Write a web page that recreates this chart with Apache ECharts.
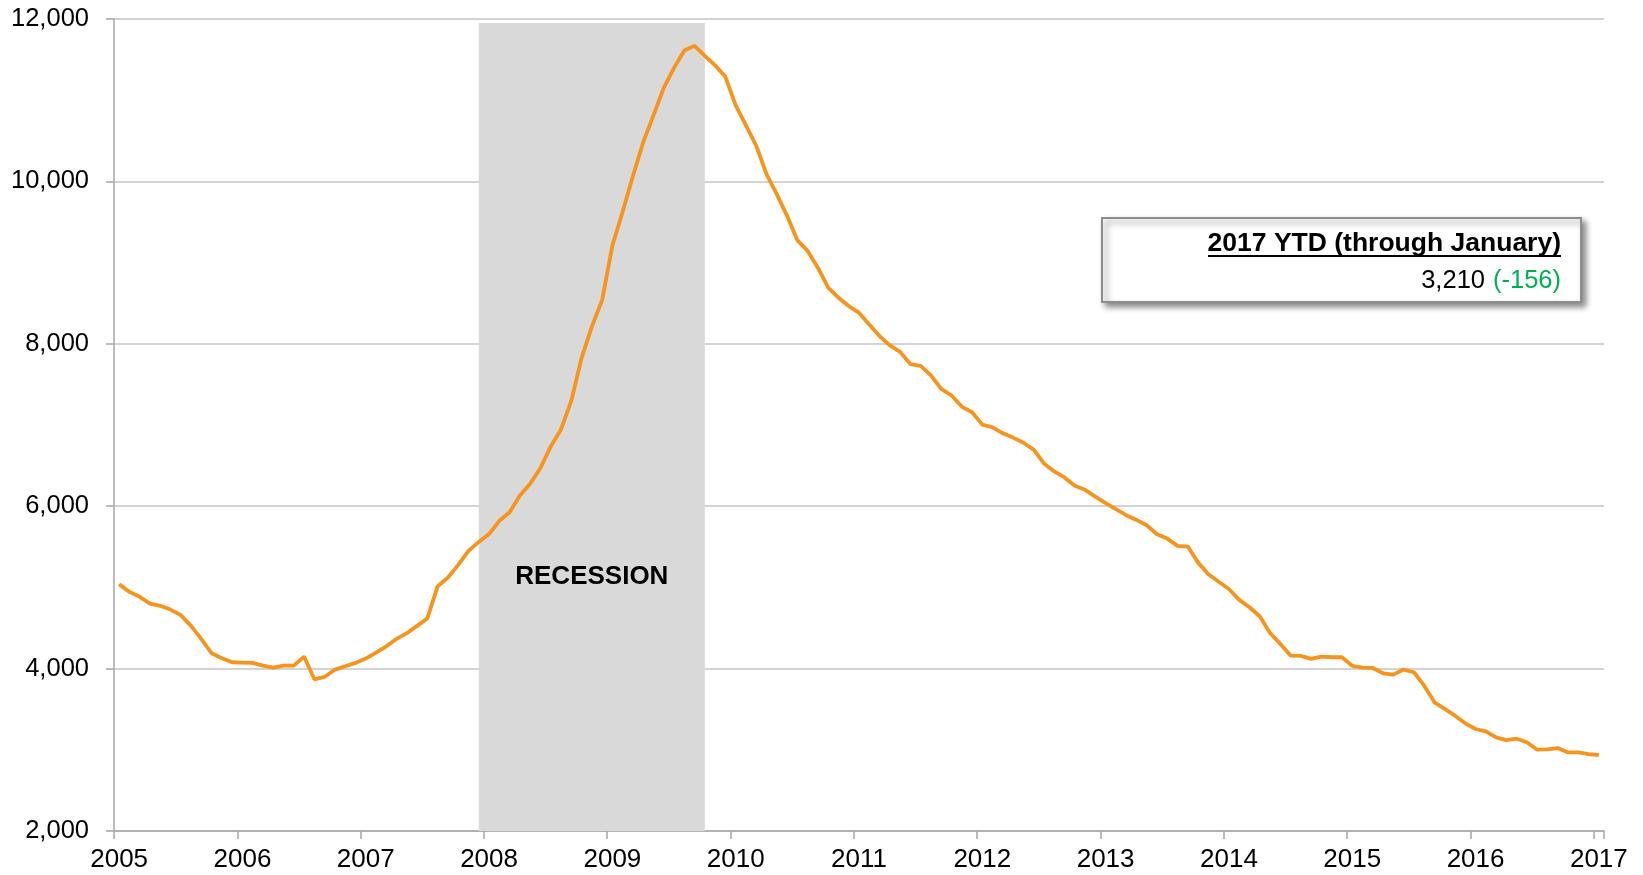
<!DOCTYPE html>
<html>
<head>
<meta charset="utf-8">
<script src="https://cdn.jsdelivr.net/npm/echarts@6/dist/echarts.min.js"></script>
<style>
html,body{margin:0;padding:0;background:#fff;}
#chart{width:1643px;height:875px;}
</style>
</head>
<body>
<div id="chart"></div>
<script>
// Years covered (monthly points from Jan 2005 through Jan 2017)
var years = [2005,2006,2007,2008,2009,2010,2011,2012,2013,2014,2015,2016,2017];
var monthCodes = ['01','02','03','04','05','06','07','08','09','10','11','12'];

// Monthly values, Jan 2005 .. Jan 2017 (145 points)
var values = [
  5040,4945,4884,4801,4773,4727,4658,4526,4362,4189,4127,4078,
  4074,4070,4037,4012,4037,4037,4148,3868,3897,3988,4029,4070,
  4123,4197,4275,4366,4436,4526,4621,5015,5122,5278,5450,5560,
  5657,5820,5925,6131,6276,6470,6734,6945,7296,7824,8211,8536,
  9209,9626,10066,10483,10813,11152,11398,11613,11670,11547,11429,11288,
  10936,10690,10439,10090,9844,9576,9276,9144,8938,8691,8568,8465,
  8383,8239,8095,7980,7901,7750,7729,7610,7445,7363,7227,7157,
  7005,6971,6897,6845,6782,6696,6527,6428,6354,6251,6202,6119,
  6037,5963,5889,5831,5766,5655,5601,5511,5503,5305,5162,5070,
  4981,4846,4756,4645,4439,4304,4160,4156,4119,4148,4140,4140,
  4033,4012,4008,3942,3926,3988,3955,3790,3585,3503,3420,3326,
  3256,3227,3153,3120,3137,3092,3001,3005,3022,2968,2968,2948,
  2936
];

// Recession band (first and last month) and its top value
var recessionStart = '2007-12';
var recessionEnd = '2009-10';
var recessionTop = 11950;
var recessionLabel = 'RECESSION';

// Y axis ticks
var yMin = 2000, yMax = 12000, yStep = 2000;

// Annotation texts
var noteTitle = '2017 YTD (through January)';
var noteValue = '3,210';
var noteChange = '(-156)';

// Build month categories
var categories = [];
for (var i = 0; i < years.length; i++) {
  for (var m = 0; m < 12; m++) {
    if (categories.length < values.length) categories.push(years[i] + '-' + monthCodes[m]);
  }
}

var FONT = '"Liberation Sans", Arial, Helvetica, sans-serif';
var chart = echarts.init(document.getElementById('chart'));

chart.setOption({
  animation: false,
  backgroundColor: '#ffffff',
  grid: { left: 114, right: 39, top: 19, bottom: 44 },
  xAxis: {
    type: 'category',
    data: categories,
    boundaryGap: true,
    axisLine: { show: true, lineStyle: { color: '#a6a6a6', width: 1.5 } },
    axisTick: { show: true, interval: 11, length: 8, lineStyle: { color: '#a6a6a6', width: 1.5 } },
    axisLabel: {
      interval: 11,
      margin: 16,
      color: '#000',
      fontSize: 26,
      fontFamily: FONT,
      formatter: function (v) { return v.slice(0, 4); }
    },
    splitLine: { show: false }
  },
  yAxis: {
    type: 'value',
    min: yMin,
    max: yMax,
    interval: yStep,
    axisLine: { show: true, lineStyle: { color: '#a6a6a6', width: 1.5 } },
    axisTick: { show: true, length: 8, lineStyle: { color: '#a6a6a6', width: 1.5 } },
    axisLabel: {
      margin: 25,
      color: '#000',
      fontSize: 25.5,
      fontFamily: FONT,
      formatter: function (v) { return v.toLocaleString('en-US'); }
    },
    splitLine: { show: true, lineStyle: { color: '#c4c4c4', width: 1.5 } }
  },
  series: [{
    type: 'line',
    data: values,
    symbol: 'none',
    smooth: false,
    lineStyle: { color: '#f7941d', width: 3.8 },
    z: 5,
    markArea: {
      silent: true,
      itemStyle: { color: '#d9d9d9' },
      label: {
        show: true,
        position: ['50%', '68.5%'],
        align: 'center',
        verticalAlign: 'middle',
        color: '#000',
        fontSize: 26,
        fontWeight: 'bold',
        fontFamily: FONT
      },
      data: [[
        { name: recessionLabel, xAxis: recessionStart, yAxis: yMin },
        { xAxis: recessionEnd, yAxis: recessionTop }
      ]]
    }
  }],
  graphic: [
    {
      type: 'rect',
      shape: { x: 1102, y: 218, width: 479, height: 84 },
      style: {
        fill: '#ffffff',
        stroke: '#8c8c8c',
        lineWidth: 2,
        shadowBlur: 6,
        shadowOffsetX: 4,
        shadowOffsetY: 4,
        shadowColor: 'rgba(0,0,0,0.45)'
      },
      z: 10
    },
    {
      type: 'text',
      x: 1561, y: 244,
      style: {
        text: noteTitle,
        fill: '#000',
        fontSize: 26.5,
        fontWeight: 'bold',
        fontFamily: FONT,
        align: 'right',
        verticalAlign: 'middle'
      },
      z: 11
    },
    {
      type: 'line',
      shape: { x1: 1208, y1: 256, x2: 1561, y2: 256 },
      style: { stroke: '#000', lineWidth: 2 },
      z: 11
    },
    {
      type: 'text',
      x: 1485, y: 280.5,
      style: {
        text: noteValue,
        fill: '#000',
        fontSize: 25.5,
        fontFamily: FONT,
        align: 'right',
        verticalAlign: 'middle'
      },
      z: 11
    },
    {
      type: 'text',
      x: 1561, y: 280.5,
      style: {
        text: noteChange,
        fill: '#00b050',
        fontSize: 25.5,
        fontFamily: FONT,
        align: 'right',
        verticalAlign: 'middle'
      },
      z: 11
    }
  ]
});
</script>
</body>
</html>
